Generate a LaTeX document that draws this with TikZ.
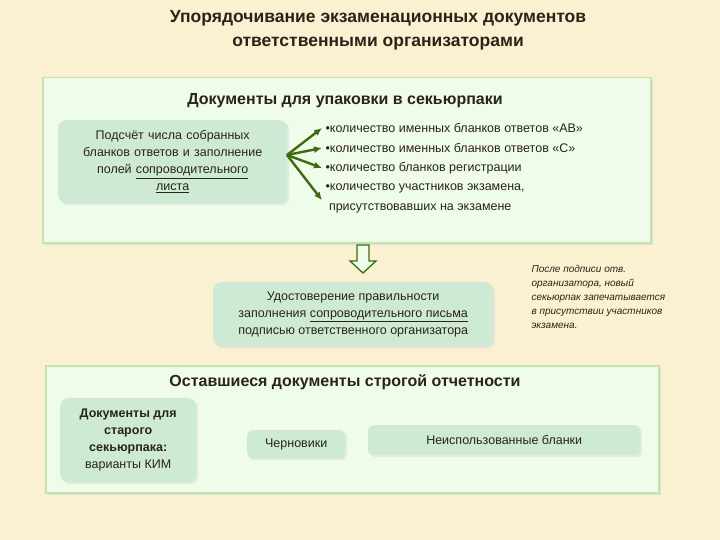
\documentclass[tikz,border=0pt]{standalone}
\usepackage{fontspec}
\setmainfont{Liberation Sans}
\usetikzlibrary{arrows.meta,shadows}
\definecolor{bg}{HTML}{FAF0D2}
\definecolor{panel}{HTML}{F0FCEA}
\definecolor{panelb}{HTML}{C6E2B2}
\definecolor{boxf}{HTML}{CFEAD4}
\definecolor{arr}{HTML}{3E6B10}
\definecolor{txt}{HTML}{2A2418}
\newcommand{\ul}[1]{\underline{#1}}
\tikzset{
 panelbox/.style={draw=panelb,line width=1.5pt,fill=panel,drop shadow={shadow xshift=2pt,shadow yshift=-2pt,fill=black!20}},
 gbox/.style={fill=boxf,rounded corners=8pt,drop shadow={shadow xshift=2pt,shadow yshift=-2pt,fill=black!15},align=center,font=\fontsize{12.5}{17}\selectfont,text=txt},
 head/.style={font=\bfseries\fontsize{16}{19}\selectfont,text=txt},
 bul/.style={anchor=west,font=\fontsize{12.5}{15}\selectfont,text=txt},
 garr/.style={-{Latex[length=8pt,width=7pt]},draw=arr,line width=2.4pt}
}
\begin{document}
\begin{tikzpicture}[x=1pt,y=-1pt]
\fill[bg] (0,0) rectangle (720,540);
\node[font=\bfseries\fontsize{17.5}{24}\selectfont,text=txt,align=center] (title) at (378,30) {Упорядочивание экзаменационных документов\\ответственными организаторами};
\node[panelbox,minimum width=608pt,minimum height=165pt,anchor=north west] (p1) at (42,77) {};
\node[head] (h1) at (345,101) {Документы для упаковки в секьюрпаки};
\node[gbox,minimum width=229pt,minimum height=83pt,anchor=north west,text width=205pt] (left) at (58,120) {Подсчёт числа собранных бланков ответов и заполнение полей \ul{сопроводительного}\\\ul{листа}};
\node[bul] (b1) at (322,128) {•количество именных бланков ответов «АВ»};
\node[bul] (b2) at (322,148) {•количество именных бланков ответов «С»};
\node[bul] (b3) at (322,168) {•количество бланков регистрации};
\node[bul] (b4) at (322,188) {•количество участников экзамена,};
\node[bul] (b5) at (322,208) {\ присутствовавших на экзамене};
\coordinate (o) at (287,155);
\draw[garr] (o) -- (b1.west);
\draw[garr] (o) -- (b2.west);
\draw[garr] (o) -- (b3.west);
\draw[garr] (o) -- ([yshift=-4pt]b4.south west);
\node[gbox,minimum width=280pt,minimum height=64pt,anchor=north west] (mid) at (213,282) {Удостоверение правильности\\заполнения \ul{сопроводительного письма}\\подписью ответственного организатора};
\draw[arr,line width=1.3pt,fill=panel] (357,245) -- (369,245) -- (369,261) -- (376,261) -- (363,273) -- (350,261) -- (357,261) -- cycle;
\node[anchor=north west,align=left,font=\itshape\fontsize{10}{14}\selectfont,text=txt] (note) at (528,262) {После подписи отв.\\организатора, новый\\секьюрпак запечатывается\\в присутствии участников\\экзамена.};
\node[panelbox,minimum width=613pt,minimum height=127pt,anchor=north west] (p2) at (45,365) {};
\node[head] (h2) at (345,382) {Оставшиеся документы строгой отчетности};
\node[gbox,minimum width=136pt,minimum height=84pt,anchor=north west] (ka) at (60,398) {\textbf{Документы для}\\\textbf{старого}\\\textbf{секьюрпака:}\\варианты КИМ};
\node[gbox,minimum width=98pt,minimum height=28pt,anchor=north west,rounded corners=5pt] (kb) at (247,430) {Черновики};
\node[gbox,minimum width=272pt,minimum height=30pt,anchor=north west,rounded corners=5pt] (kc) at (368,425) {Неиспользованные бланки};
\end{tikzpicture}
\end{document}
